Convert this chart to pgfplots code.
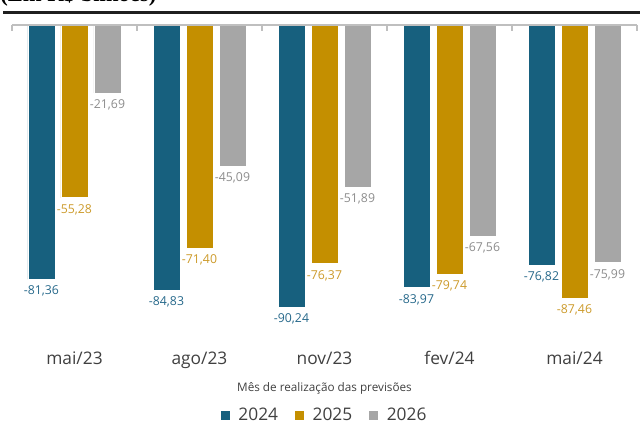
\documentclass[border=0pt]{standalone}
\usepackage{pgfplots}
\pgfplotsset{compat=1.18}
\usepackage{fontspec}
\setmainfont{Open Sans}
\newfontfamily\titlefont{Liberation Serif}
\definecolor{c24}{HTML}{17607E}
\definecolor{c25}{HTML}{C48F00}
\definecolor{c26}{HTML}{A6A6A6}
\definecolor{l24}{HTML}{26688A}
\definecolor{l25}{HTML}{CC9A2A}
\definecolor{l26}{HTML}{8C8C8C}
\definecolor{txt}{HTML}{404040}
\definecolor{axisgray}{HTML}{BFBFBF}
\pgfplotstableread{
x y24 y25 y26
0 -81.36 -55.28 -21.69
1 -84.83 -71.40 -45.09
2 -90.24 -76.37 -51.89
3 -83.97 -79.74 -67.56
4 -76.82 -87.46 -75.99
}\data
\begin{document}
\begin{tikzpicture}
\useasboundingbox (0,0) rectangle (480pt,-318pt);
\clip (0,0) rectangle (480pt,-318pt);
\node[anchor=base west, inner sep=0pt, font=\titlefont\bfseries\fontsize{17}{20}\selectfont] at (0pt,-1.5pt) {(Em R\$ bilhões)};
\fill[black!88] (2pt,-8.2pt) rectangle (480pt,-10.3pt);
\begin{axis}[
  at={(9pt,-18.75pt)}, anchor=north west,
  scale only axis, width=468.75pt, height=234.375pt,
  xmin=-0.5, xmax=4.5, ymin=-100, ymax=0,
  hide y axis,
  axis x line*=bottom,
  x axis line style={draw=none},
  major tick length=0pt,
  xtick={0,1,2,3,4},
  xticklabels={mai/23,ago/23,nov/23,fev/24,mai/24},
  xticklabel style={font=\fontsize{13}{15}\selectfont, text=txt, yshift=-7pt},
  xlabel={Mês de realização das previsões},
  xlabel style={at={(axis description cs:0.5,0)}, anchor=center, yshift=-37.9pt, font=\fontsize{8.8}{10}\selectfont, text=txt},
  ybar=4.5pt, bar width=20.25pt,
  nodes near coords,
  nodes near coords style={font=\fontsize{9.2}{11}\selectfont, yshift=-1.5pt, /pgf/number format/fixed, /pgf/number format/fixed zerofill, /pgf/number format/precision=2, /pgf/number format/use comma, /pgf/number format/assume math mode=true},
  legend columns=3,
  legend style={at={(axis description cs:0.5,0)}, anchor=center, yshift=-58.1pt, inner sep=1pt, draw=none, fill=none, font=\fontsize{13}{15}\selectfont, text=txt, /tikz/every even column/.append style={column sep=10pt}, /tikz/every odd column/.append style={column sep=4pt}},
  legend image code/.code={\fill[#1] (0pt,-3.75pt) rectangle (7.5pt,3.75pt);},
  clip=false,
]
\addplot[fill=c24, draw=white, line width=0.4pt, every node near coord/.append style={text=l24}] table[x=x,y=y24] {\data};
\addplot[fill=c25, draw=white, line width=0.4pt, every node near coord/.append style={text=l25}] table[x=x,y=y25] {\data};
\addplot[fill=c26, draw=white, line width=0.4pt, every node near coord/.append style={text=l26}] table[x=x,y=y26] {\data};
\legend{2024,2025,2026}
\draw[axisgray, line width=0.8pt] (rel axis cs:0,1) -- (rel axis cs:1,1);
\pgfplotsinvokeforeach{-0.5,0.5,1.5,2.5,3.5,4.5}{
  \draw[axisgray, line width=0.8pt] (axis cs:#1,0) -- ++(0pt,-4.5pt);
}
\end{axis}
\end{tikzpicture}
\end{document}
